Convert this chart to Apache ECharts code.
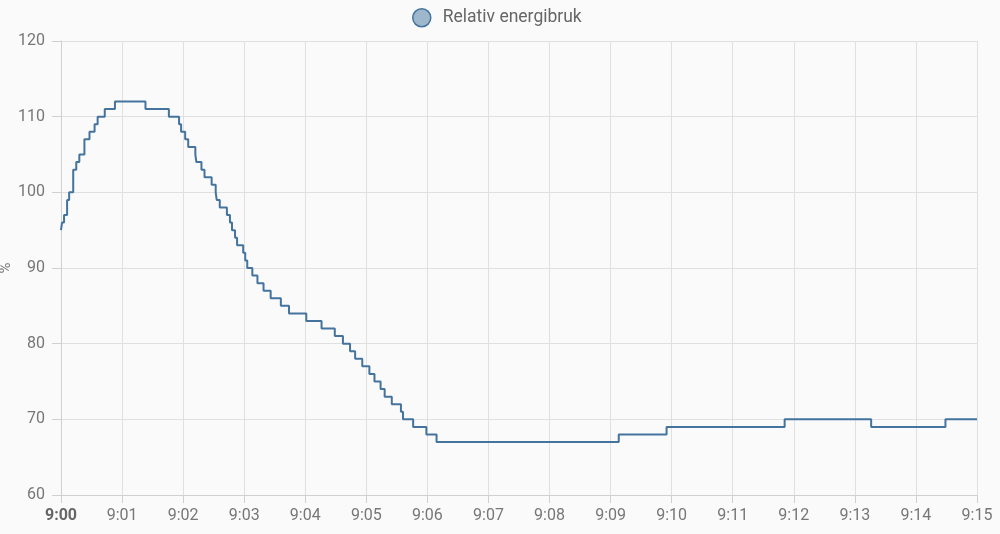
<!DOCTYPE html>
<html>
<head>
<meta charset="utf-8">
<script src="https://cdn.jsdelivr.net/npm/echarts@6/dist/echarts.min.js"></script>
<style>
  html, body { margin: 0; padding: 0; background: #fafafa; }
  #chart { width: 1000px; height: 534px; }
</style>
</head>
<body>
<div id="chart"></div>
<script>
// seconds after 9:00 where the value changes
var times = [0, 1, 3, 6, 8, 12, 15, 18, 23, 28, 33, 36, 43, 53, 83, 106,
  116, 118, 122, 125, 132, 133, 138, 141, 148, 152, 153, 156, 163, 166, 168, 171,
  173, 179, 181, 183, 188, 193, 199, 206, 216, 224, 241, 256, 269, 277, 284, 289,
  296, 303, 308, 314, 318, 325, 334, 336, 346, 359, 369, 548, 595, 711, 796, 869, 900];
var values = [95, 96, 97, 99, 100, 103, 104, 105, 107, 108, 109, 110, 111, 112, 111, 110,
  109, 108, 107, 106, 105, 104, 103, 102, 101, 100, 99, 98, 97, 96, 95, 94,
  93, 92, 91, 90, 89, 88, 87, 86, 85, 84, 83, 82, 81, 80, 79, 78,
  77, 76, 75, 74, 73, 72, 71, 70, 69, 68, 67, 68, 69, 70, 69, 70, 70];
var startHour = 9;
var seriesName = 'Relativ energibruk';

var chart = echarts.init(document.getElementById('chart'));

function label(sec) {
  var m = Math.round(sec / 60);
  var h = startHour + Math.floor(m / 60);
  m = m % 60;
  return h + ':' + (m < 10 ? '0' + m : m);
}

chart.setOption({
  backgroundColor: '#fafafa',
  textStyle: { fontFamily: 'Roboto' },
  legend: {
    top: 3,
    left: 407,
    icon: 'circle',
    itemWidth: 18,
    itemHeight: 18,
    itemGap: 10,
    textStyle: { fontSize: 17.5, color: '#666', fontFamily: 'Roboto', padding: [0, 0, 0, 7] },
    data: [{
      name: seriesName,
      itemStyle: { color: 'rgba(68,115,158,0.5)', borderColor: '#44739e', borderWidth: 1.5 }
    }]
  },
  grid: { left: 61, right: 23, top: 41, bottom: 39, outerBoundsMode: 'none', containLabel: false },
  xAxis: {
    type: 'value',
    min: 0,
    max: 900,
    interval: 60,
    axisLine: { show: true, lineStyle: { color: '#d0d0d0' } },
    axisTick: { show: true, length: 8, lineStyle: { color: '#d0d0d0' } },
    splitLine: { show: true, lineStyle: { color: '#e0e0e0' } },
    axisLabel: {
      fontSize: 16,
      color: '#777',
      margin: 13,
      formatter: function (v) {
        return v === 0 ? '{b|' + label(v) + '}' : label(v);
      },
      rich: { b: { fontWeight: 'bold', fontSize: 16, color: '#666', fontFamily: 'Roboto' } }
    }
  },
  yAxis: {
    type: 'value',
    min: 60,
    max: 120,
    interval: 10,
    name: '%',
    nameLocation: 'middle',
    nameRotate: 90,
    nameGap: 55,
    nameMoveOverlap: false,
    nameTextStyle: { fontSize: 15, color: '#777', align: 'center', verticalAlign: 'middle' },
    axisLine: { show: true, lineStyle: { color: '#d0d0d0' } },
    axisTick: { show: true, length: 9, lineStyle: { color: '#d0d0d0' } },
    splitLine: { show: true, lineStyle: { color: '#e0e0e0' } },
    axisLabel: { fontSize: 16, color: '#777', margin: 16 }
  },
  series: [{
    name: seriesName,
    type: 'line',
    step: 'end',
    symbol: 'none',
    animation: false,
    lineStyle: { color: '#44739e', width: 2 },
    itemStyle: { color: '#44739e' },
    data: times.map(function (t, i) { return [t, values[i]]; })
  }]
});
</script>
</body>
</html>
